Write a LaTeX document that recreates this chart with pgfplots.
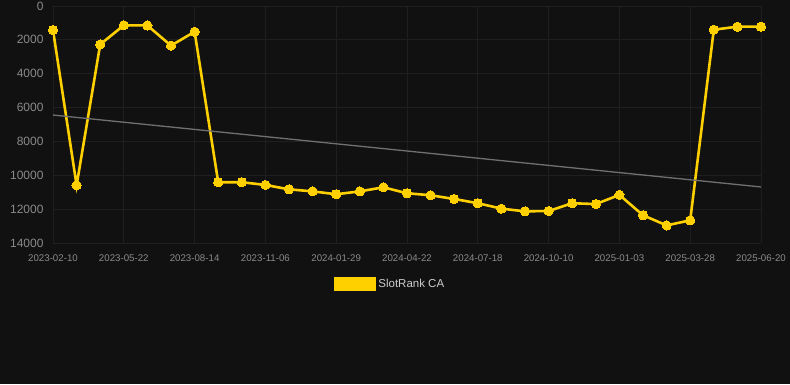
\documentclass[border=0pt]{standalone}
\usepackage{pgfplots}
\pgfplotsset{compat=1.18}
\usepackage{fontspec}
\setmainfont{Liberation Sans}
\definecolor{bg}{HTML}{111111}
\definecolor{gridc}{HTML}{1F1F1F}
\definecolor{tickc}{HTML}{8A8A8A}
\definecolor{gold}{HTML}{FFD000}
\definecolor{trend}{HTML}{707070}
\definecolor{legtxt}{HTML}{CCCCCC}
\pgfplotstableread{
i v
0 1420
1 10590
2 2270
3 1140
4 1150
5 2340
6 1520
7 10410
8 10410
9 10570
10 10830
11 10950
12 11120
13 10950
14 10710
15 11060
16 11180
17 11400
18 11650
19 11970
20 12130
21 12110
22 11650
23 11700
24 11160
25 12360
26 12960
27 12660
28 1400
29 1220
30 1220
}\rank
\begin{document}
\begin{tikzpicture}
\fill[bg] (0,0) rectangle (790pt,384pt);
\useasboundingbox (0,0) rectangle (790pt,384pt);
\begin{axis}[
  at={(53pt,141pt)}, anchor=south west,
  scale only axis, width=708pt, height=237pt,
  xmin=0, xmax=30, ymin=0, ymax=14000,
  y dir=reverse,
  axis line style={draw=none},
  tick style={draw=none},
  grid=major, grid style={gridc, line width=0.8pt},
  xtick={0,3,...,30},
  xticklabels={2023-02-10,2023-05-22,2023-08-14,2023-11-06,2024-01-29,2024-04-22,2024-07-18,2024-10-10,2025-01-03,2025-03-28,2025-06-20},
  ytick={0,2000,...,14000},
  scaled y ticks=false,
  /pgf/number format/1000 sep={},
  /pgf/number format/assume math mode=true,
  x tick label style={font=\fontsize{9.7}{11}\selectfont, text=tickc, yshift=-8pt},
  y tick label style={font=\fontsize{12}{14}\selectfont, text=tickc, xshift=-6pt},
  legend style={at={(0.476,-0.173)}, anchor=center, fill=none, draw=none,
    text=legtxt, font=\fontsize{11.5}{13}\selectfont},
  legend image code/.code={\fill[gold] (0pt,-5.5pt) rectangle (40pt,5.5pt);},
]
\addplot[gold, line width=2.6pt, mark=*, mark size=4.6pt, mark options={fill=gold, draw=gold, line width=0pt}] table[x=i,y=v]{\rank};
\addlegendentry{SlotRank CA}
\addplot[trend, line width=1.3pt, forget plot] coordinates {(0,6440) (30,10690)};
\end{axis}
\end{tikzpicture}
\end{document}
